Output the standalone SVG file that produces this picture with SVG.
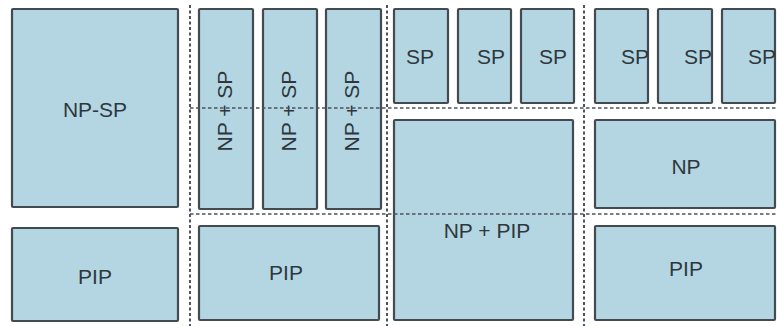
<svg xmlns="http://www.w3.org/2000/svg" width="777" height="326" viewBox="0 0 777 326">
<style>
.box{fill:#b3d6e2;stroke:#434b51;stroke-width:2.2}
.lbl{font-family:"Liberation Sans",Arial,sans-serif;font-size:21px;fill:#2f373d;text-anchor:middle}
.end{text-anchor:end}
.div{stroke:#4d5358;stroke-width:2;stroke-dasharray:3 2.5;fill:none}
.hdiv{stroke:#4d5358;stroke-width:1.6;stroke-dasharray:3.5 2.5;fill:none}
</style>
<rect width="777" height="326" fill="#ffffff"/>
<g id="np-sp"><rect class="box" x="12" y="9" width="166" height="198" rx="1"/><text class="lbl" x="95" y="117">NP-SP</text></g>
<g id="pip1"><rect class="box" x="12" y="228" width="166" height="93" rx="1"/><text class="lbl" x="95" y="284">PIP</text></g>
<g id="npsp1"><rect class="box" x="199" y="9" width="54" height="200" rx="1"/><text class="lbl" transform="translate(232,111) rotate(-90)">NP + SP</text></g>
<g id="npsp2"><rect class="box" x="263" y="9" width="54" height="200" rx="1"/><text class="lbl" transform="translate(296,111) rotate(-90)">NP + SP</text></g>
<g id="npsp3"><rect class="box" x="326" y="9" width="55" height="200" rx="1"/><text class="lbl" transform="translate(359,111) rotate(-90)">NP + SP</text></g>
<g id="pip2"><rect class="box" x="199" y="226" width="180" height="94" rx="1"/><text class="lbl" x="286" y="280">PIP</text></g>
<g id="sp1"><rect class="box" x="394" y="9" width="54" height="94" rx="1"/><text class="lbl" x="420" y="64">SP</text></g>
<g id="sp2"><rect class="box" x="458" y="9" width="53" height="94" rx="1"/><text class="lbl" x="491" y="64">SP</text></g>
<g id="sp3"><rect class="box" x="521" y="9" width="53" height="94" rx="1"/><text class="lbl" x="553" y="64">SP</text></g>
<g id="np-pip"><rect class="box" x="394" y="120" width="179" height="200" rx="1"/><text class="lbl" x="487" y="238">NP + PIP</text></g>
<g id="sp4"><rect class="box" x="595" y="9" width="53" height="94" rx="1"/><text class="lbl end" x="649" y="64">SP</text></g>
<g id="sp5"><rect class="box" x="658" y="9" width="54" height="94" rx="1"/><text class="lbl end" x="712" y="64">SP</text></g>
<g id="sp6"><rect class="box" x="722" y="9" width="53" height="94" rx="1"/><text class="lbl end" x="776" y="64">SP</text></g>
<g id="np"><rect class="box" x="595" y="120" width="180" height="88" rx="1"/><text class="lbl" x="686" y="174">NP</text></g>
<g id="pip3"><rect class="box" x="595" y="226" width="180" height="94" rx="1"/><text class="lbl" x="686" y="276">PIP</text></g>
<g id="connectors">
<line class="div" x1="190" y1="5" x2="190" y2="326"/>
<line class="div" x1="387" y1="5" x2="387" y2="326"/>
<line class="div" x1="584" y1="5" x2="584" y2="326"/>
<line class="hdiv" x1="190" y1="108" x2="777" y2="108"/>
<line class="hdiv" x1="190" y1="214" x2="777" y2="214"/>
</g>
</svg>
